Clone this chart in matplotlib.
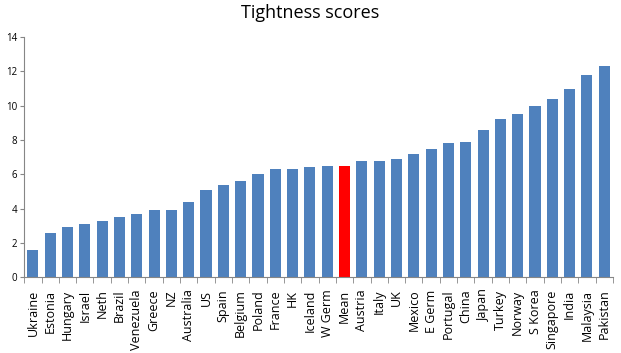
import matplotlib
matplotlib.use('Agg')
from matplotlib import pyplot as plt
import numpy as np

# Countries ordered by tightness score
paises = ['Ukraine', 'Estonia', 'Hungary', 'Israel', 'Neth', 'Brazil', 'Venezuela',
          'Greece', 'NZ', 'Australia', 'US', 'Spain', 'Belgium', 'Poland', 'France',
          'HK', 'Iceland', 'W Germ', 'Mean', 'Austria', 'Italy', 'UK', 'Mexico',
          'E Germ', 'Portugal', 'China', 'Japan', 'Turkey', 'Norway', 'S Korea',
          'Singapore', 'India', 'Malaysia', 'Pakistan']

# Tightness scores
valores = [1.6, 2.6, 2.9, 3.1, 3.3, 3.5, 3.7, 3.9, 3.9, 4.4, 5.1, 5.4, 5.6, 6.0,
           6.3, 6.3, 6.4, 6.5, 6.5, 6.8, 6.8, 6.9, 7.2, 7.5, 7.8, 7.9, 8.6, 9.2,
           9.5, 10.0, 10.4, 11.0, 11.8, 12.3]

plt.rcParams['font.family'] = ['Open Sans', 'DejaVu Sans']

cores = ['#FF0000' if p == 'Mean' else '#4F81BD' for p in paises]

fig = plt.figure(figsize=(6.21, 3.53), dpi=100)
ax = fig.add_axes([0.039, 0.215, 0.948, 0.68])

x = np.arange(len(paises))
ax.bar(x, valores, width=0.64, color=cores)

ax.set_xlim(-0.5, len(paises) - 0.5)
ax.set_ylim(0, 14)
ax.set_yticks(range(0, 15, 2))
ax.tick_params(axis='y', labelsize=7, length=3, color='#868686', pad=2)

ax.set_xticks(x)
ax.set_xticklabels(paises, rotation=90, fontsize=9)
ax.tick_params(axis='x', length=0, pad=9)
ax.set_xticks(np.arange(-0.5, len(paises)), minor=True)
ax.tick_params(axis='x', which='minor', length=4, color='#868686')

for lado in ['top', 'right']:
    ax.spines[lado].set_visible(False)
for lado in ['left', 'bottom']:
    ax.spines[lado].set_color('#868686')

fig.text(0.5, 0.962, 'Tightness scores', ha='center', va='center', fontsize=13)

plt.savefig('out.png', dpi=100)
